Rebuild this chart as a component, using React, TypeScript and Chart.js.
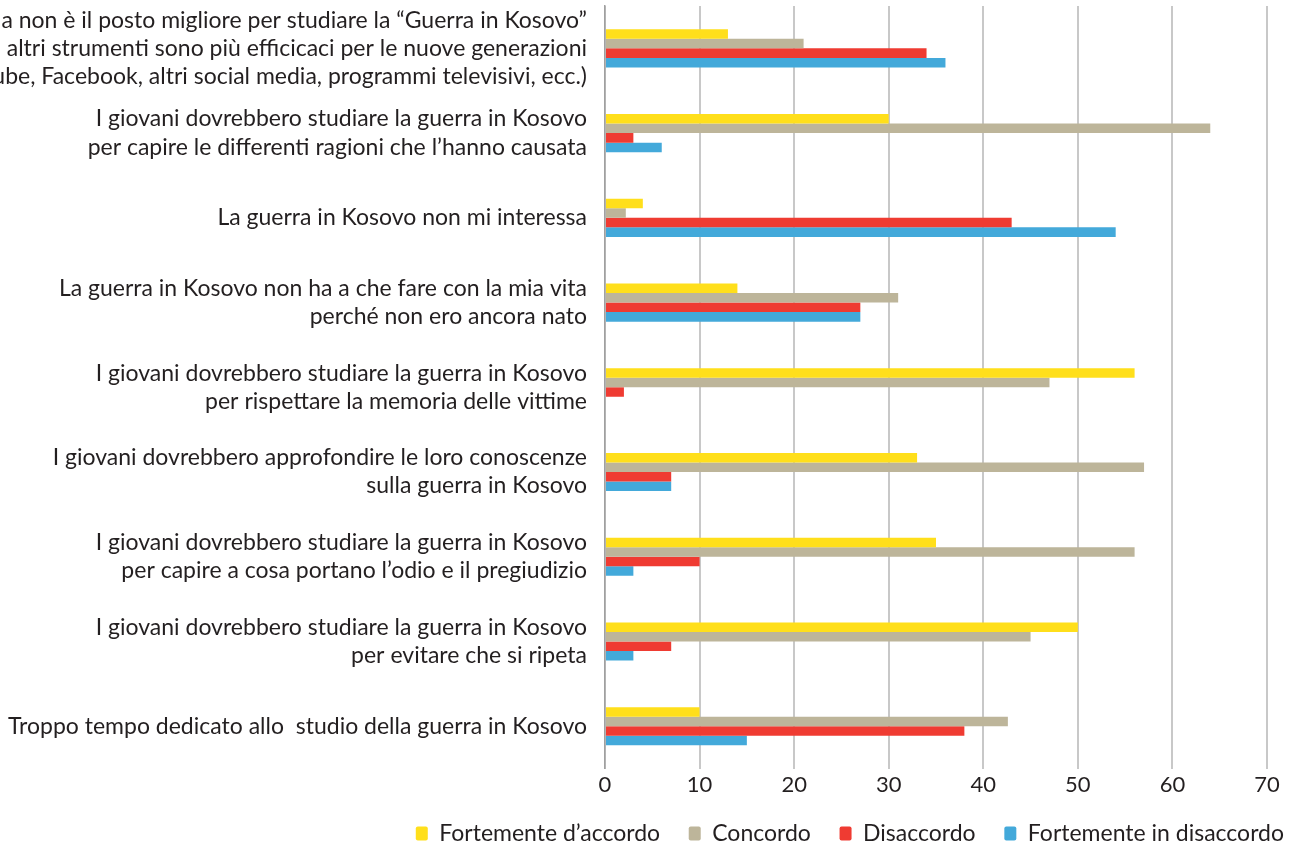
import React, { useEffect, useRef } from "react";
import { Chart, registerables } from "chart.js";

Chart.register(...registerables);

const categories: string[][] = [
  [
    "La scuola non è il posto migliore per studiare la “Guerra in Kosovo”",
    "perché altri strumenti sono più efficicaci per le nuove generazioni",
    "(YouTube, Facebook, altri social media, programmi televisivi, ecc.)",
  ],
  ["I giovani dovrebbero studiare la guerra in Kosovo", "per capire le differenti ragioni che l’hanno causata"],
  ["La guerra in Kosovo non mi interessa"],
  ["La guerra in Kosovo non ha a che fare con la mia vita", "perché non ero ancora nato"],
  ["I giovani dovrebbero studiare la guerra in Kosovo", "per rispettare la memoria delle vittime"],
  ["I giovani dovrebbero approfondire le loro conoscenze", "sulla guerra in Kosovo"],
  ["I giovani dovrebbero studiare la guerra in Kosovo", "per capire a cosa portano l’odio e il pregiudizio"],
  ["I giovani dovrebbero studiare la guerra in Kosovo", "per evitare che si ripeta"],
  ["Troppo tempo dedicato allo  studio della guerra in Kosovo"],
];

const seriesNames = ["Fortemente d’accordo", "Concordo", "Disaccordo", "Fortemente in disaccordo"];

const fortementeAccordo = [13, 30, 4, 14, 56, 33, 35, 50, 10];
const concordo = [21, 64, 2.2, 31, 47, 57, 56, 45, 42.6];
const disaccordo = [34, 3, 43, 27, 2, 7, 10, 7, 38];
const fortementeDisaccordo = [36, 6, 54, 27, 0, 7, 3, 3, 15];

const xTicks = [0, 10, 20, 30, 40, 50, 60, 70];

const colors = ["#FFDF1B", "#BDB59A", "#EF3B32", "#43A9DA"];

const FONT = "Lato";
const TEXT = "#231F20";

export default function App() {
  const ref = useRef<HTMLCanvasElement | null>(null);

  useEffect(() => {
    if (!ref.current) return;
    const values = [fortementeAccordo, concordo, disaccordo, fortementeDisaccordo];
    const chart = new Chart(ref.current, {
      type: "bar",
      data: {
        labels: categories,
        datasets: values.map((v, i) => ({
          label: seriesNames[i],
          data: v,
          backgroundColor: colors[i],
          borderWidth: 0,
          barPercentage: 1,
          categoryPercentage: 0.45,
        })),
      },
      options: {
        indexAxis: "y",
        animation: false,
        responsive: false,
        maintainAspectRatio: false,
        layout: { padding: { top: 6, right: 0, bottom: -9, left: 0 } },
        plugins: {
          tooltip: { enabled: false },
          legend: {
            position: "bottom",
            align: "end",
            labels: {
              boxWidth: 12,
              boxHeight: 14,
              padding: 11,
              color: TEXT,
              font: { family: FONT, size: 23 },
              generateLabels: (chart: any) =>
                chart.data.datasets.map((ds: any, i: number) => ({
                  text: ds.label + (i < 3 ? "   " : ""),
                  fillStyle: ds.backgroundColor,
                  strokeStyle: ds.backgroundColor,
                  lineWidth: 0,
                  hidden: false,
                  datasetIndex: i,
                  fontColor: TEXT,
                  borderRadius: 2,
                })),
            },
          },
        },
        scales: {
          x: {
            min: 0,
            max: 70,
            afterBuildTicks: (scale: any) => {
              scale.ticks = xTicks.map((v) => ({ value: v }));
            },
            grid: { color: "#C8C8C8", lineWidth: 2, drawTicks: false },
            border: { display: false },
            ticks: { color: TEXT, font: { family: FONT, size: 22 }, padding: 3 },
            afterFit: (scale: any) => {
              scale.height += 10;
              scale.paddingRight = 28;
            },
          },
          y: {
            grid: { display: false, drawTicks: false },
            border: { display: true, color: "#A0A0A0", width: 1.5 },
            ticks: {
              color: TEXT,
              font: { family: FONT, size: 23, lineHeight: 1.22 },
              padding: 18,
              autoSkip: false,
            },
            afterFit: (scale: any) => {
              scale.width = 605;
              scale.paddingTop = 0;
              scale.paddingBottom = 0;
            },
          },
        },
      },
    });
    return () => chart.destroy();
  }, []);

  return (
    <div style={{ position: "absolute", left: 0, top: 0, width: 1295, height: 846, background: "#fff" }}>
      <canvas ref={ref} width={1295} height={846} style={{ display: "block" }} />
    </div>
  );
}
